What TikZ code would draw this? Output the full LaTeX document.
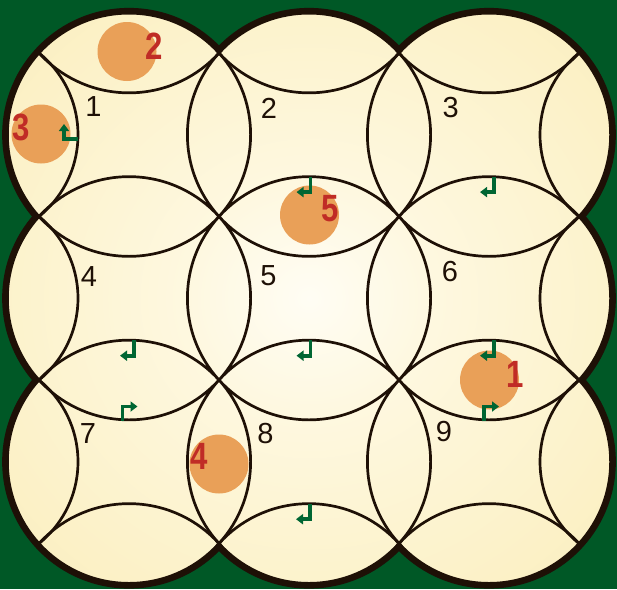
\documentclass[tikz,border=0pt]{standalone}
\usepackage{fontspec}
\usepackage{graphicx}
\setmainfont{Liberation Sans}
\usetikzlibrary{arrows.meta}

\definecolor{felt}{RGB}{0,88,38}
\definecolor{rimbrown}{RGB}{30,16,6}
\definecolor{creamA}{RGB}{255,253,244}
\definecolor{creamB}{RGB}{254,248,224}
\definecolor{creamC}{RGB}{251,239,192}
\definecolor{creamD}{RGB}{249,230,160}
\definecolor{discorange}{RGB}{233,160,88}
\definecolor{discred}{RGB}{192,44,38}
\definecolor{turngreen}{RGB}{0,102,51}

\pgfdeclareradialshading{glow}{\pgfpoint{0bp}{0bp}}{%
    color(0bp)=(creamA); color(10bp)=(creamB); color(34bp)=(creamC);
    color(60bp)=(creamD); color(72bp)=(creamD)}

\newcommand{\ringr}{121.6}
\newcommand{\ringunion}{(c1) circle[radius=\ringr] (c2) circle[radius=\ringr]
    (c3) circle[radius=\ringr] (c4) circle[radius=\ringr] (c5) circle[radius=\ringr]
    (c6) circle[radius=\ringr] (c7) circle[radius=\ringr] (c8) circle[radius=\ringr]
    (c9) circle[radius=\ringr]}
\newcommand{\narrow}[1]{\scalebox{0.82}[1]{#1}}

\begin{document}
\begin{tikzpicture}[
        x=1pt, y=-1pt,
        rim/.style={draw=rimbrown, line width=10.5pt},
        seam/.style={draw=rimbrown, line width=2.7pt},
        cellnum/.style={font=\fontsize{29}{29}\selectfont, text=rimbrown,
            inner sep=0pt},
        token/.style={circle, fill=discorange, minimum size=59pt, inner sep=0pt},
        tokennum/.style={font=\bfseries\fontsize{38}{38}\selectfont,
            text=discred, inner sep=0pt},
        spin/.style={draw=turngreen, line width=3.7pt, line join=miter,
            -{Triangle[width=10pt,length=7pt]}}
    ]
    \useasboundingbox (0,0) rectangle (617,589);
    \fill[felt] (0,0) rectangle (617,589);

    % ring centres
    \coordinate (c1) at (129,134.75);
    \coordinate (c2) at (309,134.75);
    \coordinate (c3) at (489,134.75);
    \coordinate (c4) at (129,298.25);
    \coordinate (c5) at (309,298.25);
    \coordinate (c6) at (489,298.25);
    \coordinate (c7) at (129,461.75);
    \coordinate (c8) at (309,461.75);
    \coordinate (c9) at (489,461.75);
    % rings just outside the board
    \coordinate (u1) at (129,-28.75);
    \coordinate (u2) at (309,-28.75);
    \coordinate (u3) at (489,-28.75);
    \coordinate (d1) at (129,625.25);
    \coordinate (d2) at (309,625.25);
    \coordinate (d3) at (489,625.25);
    \coordinate (l1) at (-27.2,134.75);
    \coordinate (l2) at (-27.2,298.25);
    \coordinate (l3) at (-27.2,461.75);
    \coordinate (r1) at (645.2,134.75);
    \coordinate (r2) at (645.2,298.25);
    \coordinate (r3) at (645.2,461.75);

    \draw[rim] \ringunion;
    \shade[shading=glow] \ringunion;
    \begin{scope}
        \clip \ringunion;
        \draw[seam] (u1) circle[radius=\ringr] (u2) circle[radius=\ringr]
            (u3) circle[radius=\ringr] (d1) circle[radius=\ringr]
            (d2) circle[radius=\ringr] (d3) circle[radius=\ringr];
        \draw[seam] (l1) circle[radius=105.2] (l2) circle[radius=105.2]
            (l3) circle[radius=105.2] (r1) circle[radius=105.2]
            (r2) circle[radius=105.2] (r3) circle[radius=105.2];
    \end{scope}
    \draw[seam] \ringunion;

    % tokens
    \node[token] (t1) at (489.5,380) {};
    \node[token] (t2) at (127,51.5) {};
    \node[token] (t3) at (41,134) {};
    \node[token] (t4) at (219,464) {};
    \node[token] (t5) at (309.5,215) {};
    \node[tokennum] (k1) at (515,374.5) {\narrow{1}};
    \node[tokennum] (k2) at (154,46) {\narrow{2}};
    \node[tokennum] (k3) at (21,127.5) {\narrow{3}};
    \node[tokennum] (k4) at (199.5,456) {\narrow{4}};
    \node[tokennum] (k5) at (330.5,209) {\narrow{5}};

    % turn marks
    \coordinate (a1) at (78,139);
    \coordinate (a2) at (310.5,176.6);
    \coordinate (a3) at (494,176.6);
    \coordinate (a4) at (134,340.2);
    \coordinate (a5) at (310.5,340.2);
    \coordinate (a6) at (494,340.2);
    \coordinate (a8) at (310,503.7);
    \coordinate (b7) at (122.5,420.5);
    \coordinate (b9) at (484,420.5);
    \draw[spin] (a1) -| ++(-14,-15);
    \draw[spin] (a2) |- ++(-14,15.5);
    \draw[spin] (a3) |- ++(-14,15.5);
    \draw[spin] (a4) |- ++(-14,15.5);
    \draw[spin] (a5) |- ++(-14,15.5);
    \draw[spin] (a6) |- ++(-14,15.5);
    \draw[spin] (a8) |- ++(-14,15.5);
    \draw[spin] (b7) |- ++(15,-14);
    \draw[spin] (b9) |- ++(15,-14);

    % cell numbers
    \node[cellnum] (n1) at (93.5,107) {1};
    \node[cellnum] (n2) at (269,108) {2};
    \node[cellnum] (n3) at (450.7,108) {3};
    \node[cellnum] (n4) at (89,277) {4};
    \node[cellnum] (n5) at (268.5,276) {5};
    \node[cellnum] (n6) at (450,272) {6};
    \node[cellnum] (n7) at (88,434) {7};
    \node[cellnum] (n8) at (265.5,434) {8};
    \node[cellnum] (n9) at (444,432) {9};
\end{tikzpicture}
\end{document}
